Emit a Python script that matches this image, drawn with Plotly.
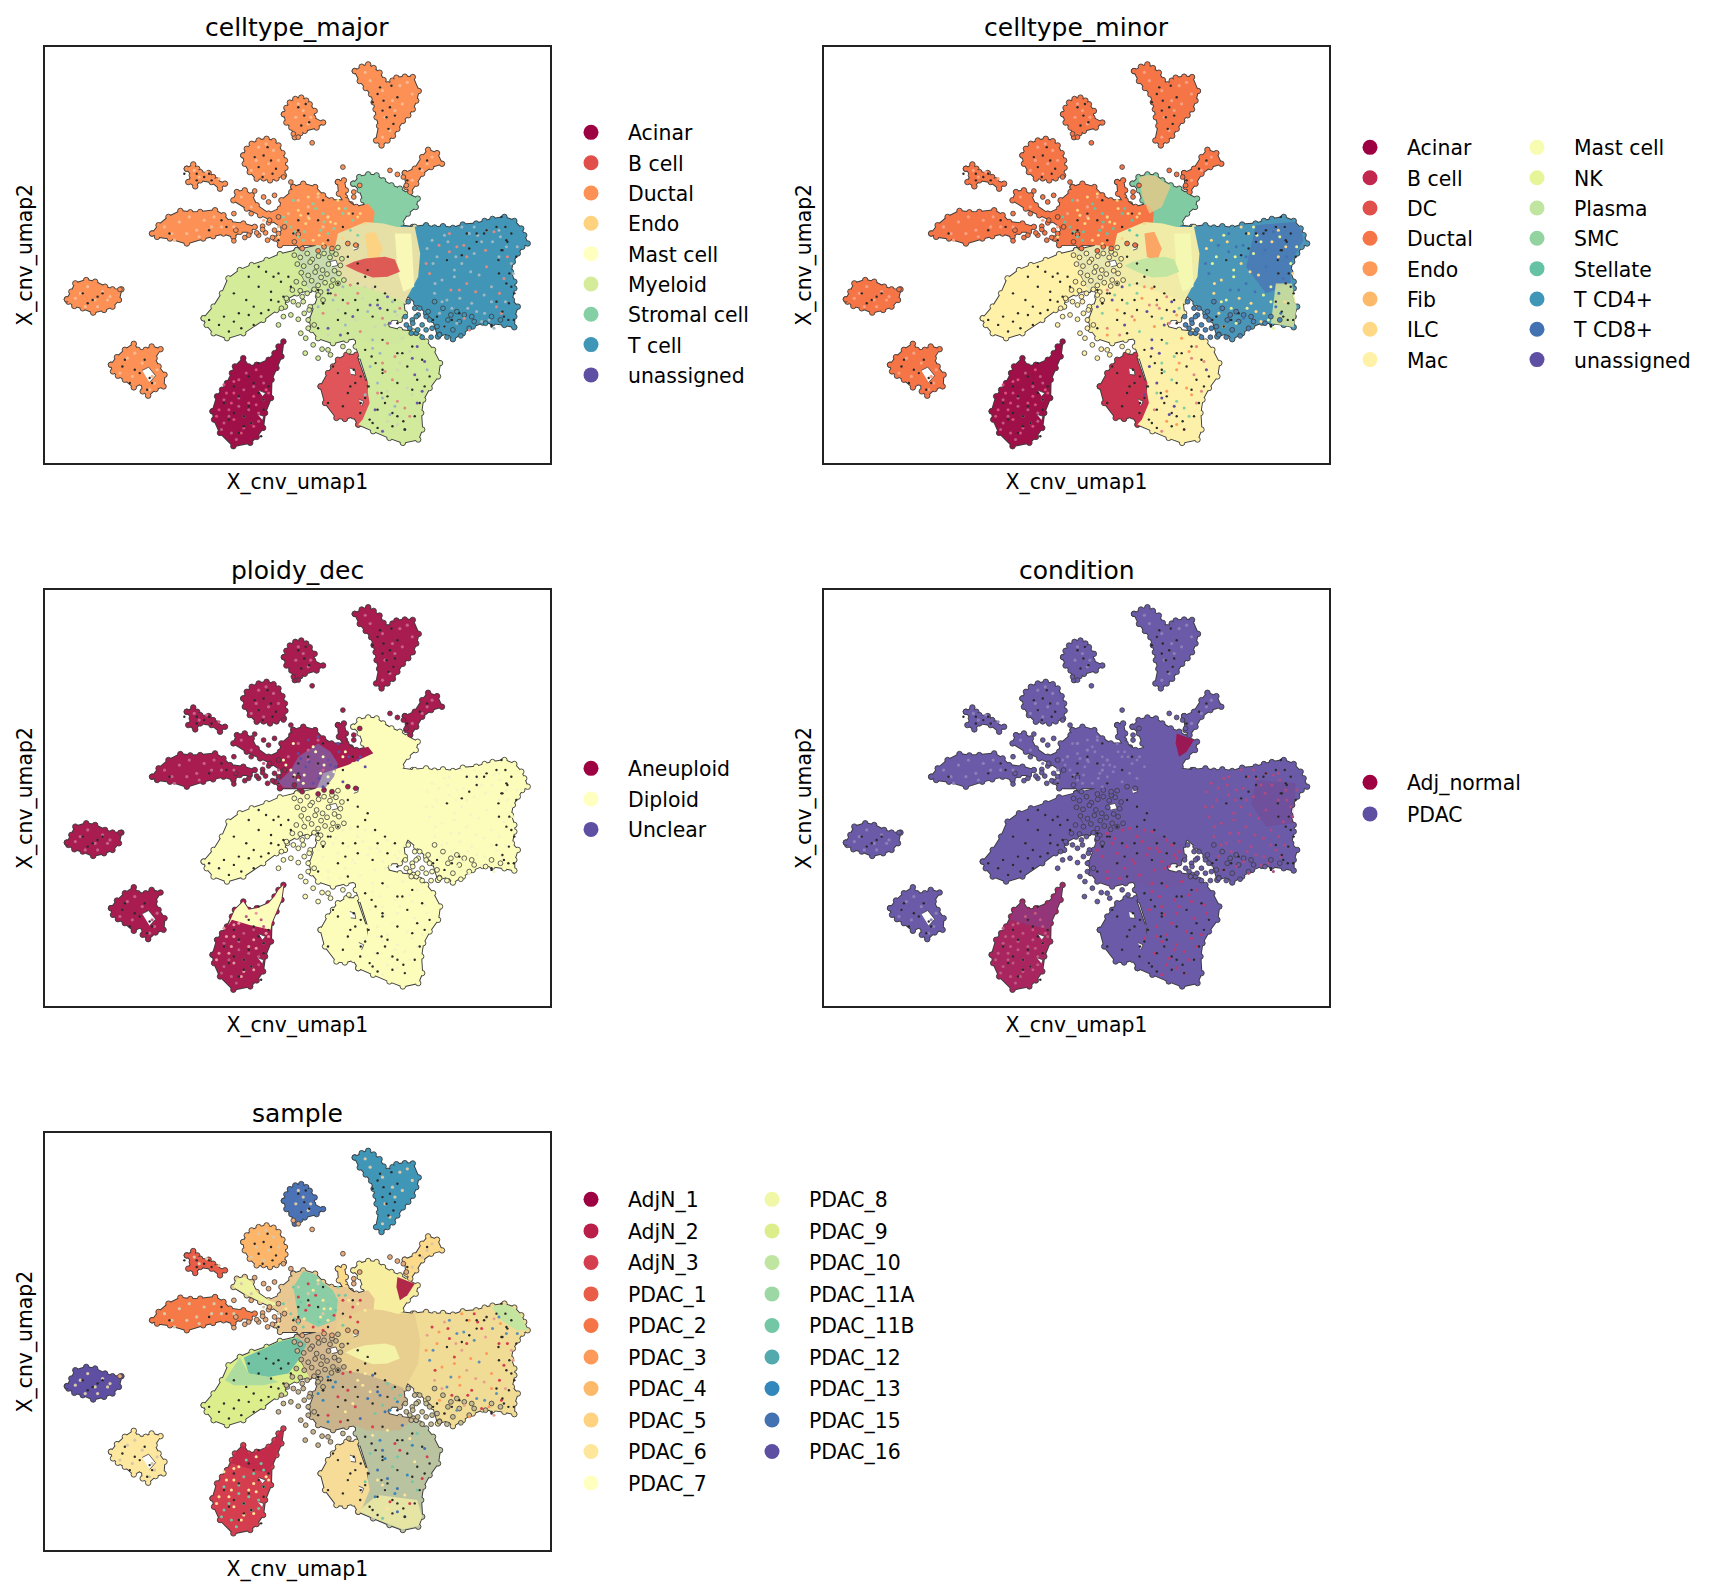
import plotly.graph_objects as go

# ---- cluster outlines (x = umap1 axis, y = umap2 axis, picture units)
TOP_WEDGE_X = [714,728,741,752,764,772,781,790,798,815,831,843,838,831,822,811,800,791,780,768,757,763,758,756,752,747,736,724]
TOP_WEDGE_Y = [211,198,191,202,216,238,251,240,231,228,229,271,300,326,344,361,385,406,420,435,420,376,350,326,305,281,262,241]
BLOB_TOP_X = [571,576,583,594,606,616,623,633,630,650,637,613,604,593,586,576]
BLOB_TOP_Y = [341,322,306,295,291,300,311,331,351,366,381,391,398,410,381,366]
BLOB_A_X = [489,496,506,520,536,550,560,568,573,574,571,556,543,530,516,502,492]
BLOB_A_Y = [465,445,430,420,415,422,435,458,480,502,525,534,540,534,535,515,490]
SMALL_A_X = [375,388,396,402,419,428,435,452,442,425,402,392,378,385]
SMALL_A_Y = [505,492,505,515,518,530,540,550,565,545,540,558,545,525]
LEFT_LONG_X = [305,318,338,362,382,402,432,449,462,489,512,502,482,469,449,428,408,375,341,315]
LEFT_LONG_Y = [700,675,650,632,636,635,630,645,665,670,680,695,695,710,700,708,715,730,715,710]
LEFT_ROUND_X = [133,142,150,172,190,210,225,243,238,225,208,186,165,148,136]
LEFT_ROUND_Y = [898,875,850,840,845,860,868,868,900,920,930,938,925,918,905]
LOW_LEFT_X = [222,234,250,268,276,292,304,322,310,318,330,328,312,297,286,284,268,250,236,226]
LOW_LEFT_Y = [1095,1072,1050,1032,1050,1050,1040,1048,1075,1100,1125,1160,1168,1188,1175,1150,1163,1140,1128,1115]
ACINAR_X = [427,436,446,456,466,472,489,500,516,540,552,560,570,566,556,546,545,533,529,516,503,469,442,430]
ACINAR_Y = [1235,1190,1170,1150,1120,1100,1075,1100,1095,1080,1060,1040,1025,1070,1105,1140,1195,1240,1285,1312,1330,1340,1300,1260]
BCELL_X = [645,660,670,680,697,717,737,744,730,721,711,694,677,654]
BCELL_Y = [1160,1120,1100,1080,1065,1065,1150,1210,1260,1275,1250,1258,1255,1210]
MYE_LOW_X = [717,751,780,805,845,858,872,886,882,865,852,848,850,842,811,784,751,721,737,741,724,716]
MYE_LOW_Y = [990,995,985,995,1010,1025,1050,1090,1130,1165,1200,1240,1290,1320,1330,1315,1295,1275,1220,1150,1070,1040]
MYE_MID_X = [623,633,640,630,670,724,778,811,815,805,784,778,805,832,805,737,717,697,670,640,627]
MYE_MID_Y = [960,920,890,850,820,810,870,890,940,960,960,980,990,995,1030,1030,1015,1020,1030,1015,990]
MYE_LEFT_X = [409,429,446,459,482,506,536,563,597,617,603,623,597,573,573,556,529,489,456,429,415]
MYE_LEFT_Y = [955,920,880,835,810,795,780,762,750,770,820,870,880,900,920,930,960,1000,1015,1000,975]
TCELL_X = [805,831,858,875,892,912,932,959,976,992,1016,1036,1050,1056,1063,1052,1043,1033,1029,1036,1036,1031,1043,1036,1036,1016,992,972,952,932,912,902,882,872,858,838,818,805,805]
TCELL_Y = [675,680,675,682,678,683,673,670,662,656,650,662,685,705,730,740,760,785,815,845,865,900,920,950,982,975,970,968,980,1000,1018,1000,1010,960,940,910,885,820,730]
STROMAL_X = [711,723,741,758,771,788,805,821,841,837,821,808,805,751,731,724]
STROMAL_Y = [550,530,522,525,540,555,565,580,595,620,640,670,685,685,600,570]
DUCT_CENTER_X = [590,610,634,650,667,697,717,741,754,751,724,704,670,637,603,563,553,570,546,523,496,469,476,492,506,516,540,563,566,586]
DUCT_CENTER_Y = [560,550,560,585,600,600,620,610,635,680,710,740,750,735,735,735,715,685,660,645,625,600,575,570,585,615,640,625,600,575]
STREAK_X = [815,835,850,862,880,890,868,850,838,826,818]
STREAK_Y = [518,505,470,448,458,490,500,520,550,575,560]
SPIKE_X = [680,692,696,694,706,695,682]
SPIKE_Y = [545,540,570,590,612,612,580]
CENTER_LINK_X = [680,735,772,800,835,846,842,825,815,772,730,690,670]
CENTER_LINK_Y = [700,665,670,680,680,760,830,880,905,880,860,850,770]
MIDWEST_X = [597,640,700,720,704,670,640,622,605]
MIDWEST_Y = [750,735,745,800,835,830,860,870,820]

# ---- colour patches inside the clusters
ENDO_PATCH_X = [735,755,770,760,740]
ENDO_PATCH_Y = [700,695,745,785,770]
MAST_STRIP_X = [795,828,834,812,800]
MAST_STRIP_Y = [700,700,860,875,810]
DC_SPOT_X = [695,712,735,775,795,805,780,750,720]
DC_SPOT_Y = [797,785,775,770,778,815,830,832,815]
T_RIGHT_X = [960,1036,1050,1056,1040,1030,1030,980,940]
T_RIGHT_Y = [675,665,685,720,760,790,850,880,800]
NK_PATCH_X = [1000,1032,1042,1036,990]
NK_PATCH_Y = [850,850,920,982,970]
STROMAL_TOP_X = [723,741,758,771,788,770,745,731]
STROMAL_TOP_Y = [532,524,527,542,557,620,640,590]
ACINAR_TOP_X = [472,489,500,516,540,552,560,570,566,556,546,544,500,466,458]
ACINAR_TOP_Y = [1100,1075,1100,1095,1080,1060,1040,1025,1070,1105,1140,1160,1145,1130,1148]
UNCLEAR_PATCH_X = [600,640,665,680,672,655,620,570,560,585]
UNCLEAR_PATCH_Y = [640,600,625,660,700,733,733,733,715,680]
DIPLOID_SIDE_X = [650,700,758,758,724,704,670,637]
DIPLOID_SIDE_Y = [690,665,625,680,712,742,752,737]
NORMAL_SPOT_X = [800,835,820,805,798]
NORMAL_SPOT_Y = [570,590,625,640,600]
T_FLUSH_X = [960,1040,1035,980,950]
T_FLUSH_Y = [710,720,840,850,780]
S_T_GREEN_X = [990,1016,1036,1050,1056,1063,1040,1010]
S_T_GREEN_Y = [660,652,664,687,707,730,730,700]
S_LEFT_TEAL_X = [490,536,563,597,617,600,580,540,500]
S_LEFT_TEAL_Y = [812,782,764,752,772,820,860,870,860]
S_LEFT_GREEN_X = [452,482,500,540,560,530,470]
S_LEFT_GREEN_Y = [880,812,860,870,885,895,895]
S_DUCT_TEAL_X = [590,610,634,650,670,680,675,640,600]
S_DUCT_TEAL_Y = [600,552,562,587,610,640,700,720,690]
S_DUCT_YG_X = [469,476,492,506,516,540,560,545,523,496]
S_DUCT_YG_Y = [600,575,570,585,615,640,650,658,643,623]
S_LOW_Y_X = [721,760,840,850,842,811,784,751]
S_LOW_Y_Y = [1273,1225,1240,1290,1318,1328,1313,1293]

# ---- small gaps seen inside the clusters
GAP_X = [285,298,312,300,None,518,530,528,None,704,714,716,706,None,722,732,728,None,662,676,680,668,None,710,722,720,712,None,520,534,528]
GAP_Y = [1112,1102,1128,1148,None,1244,1250,1262,None,1105,1110,1126,1124,None,1198,1205,1220,None,785,780,796,800,None,735,732,746,750,None,1172,1180,1190]

# ---- loose cells
LOOSE_CENTER_X = [592,604,618,628,641,652,664,676,688,598,611,624,637,649,661,673,685,606,620,634,646,658,670,682,596,612,627,640,654,667,680,692,604,618,632,645,610,624,612,600,588,578,566,570,560,620,605,615,690,702,665,648,630,614,668,680,608,590,576,585,660,640,600,620,632,650,640,622]
LOOSE_CENTER_Y = [765,772,760,778,768,760,772,762,776,792,798,786,800,810,792,812,796,818,826,816,832,822,840,820,845,850,842,856,848,858,850,840,872,880,868,876,905,920,940,958,870,900,925,950,975,985,1000,1015,1040,1055,1065,1048,1035,1060,755,742,890,905,895,945,1050,1075,915,960,975,900,885,930]
LOOSE_T_X = [822,835,816,830,842,850,825,858,870,885,868,838,818,828,850,880,900,912,928,945,902,925,955,978,990,1008,838,831,841,865,858,885,845,862,875,892,908,920,935,950]
LOOSE_T_Y = [905,925,950,960,945,975,985,950,985,1003,1012,1000,975,1000,1012,980,1012,990,1008,985,960,965,965,970,950,960,950,970,990,960,990,1005,925,935,905,925,945,935,945,950]
LOOSE_DUCT_X = [470,505,512,530,540,552,690,712,590,600,628,785,800,812,818,640,652,668,700,716,520,538,474,492,240,570,585,712,724,528,552,572,608,600,592,534,548,560,540,470,500,516,528,542,560]
LOOSE_DUCT_Y = [640,640,572,590,605,585,500,575,400,410,427,510,522,530,555,752,740,745,730,735,705,720,690,712,868,530,545,590,555,678,690,680,745,702,725,698,712,700,668,722,705,698,688,660,650]

# ---- dark flecks
FLECK_X = [760,772,785,778,792,770,782,800,765,788,750,795,600,612,622,606,615,530,545,520,555,538,512,548,528,395,410,425,370,395,420,445,340,455,420,165,185,205,175,195,250,270,290,300,260,280,245,305,295,480,500,520,470,490,510,530,460,500,480,520,490,450,470,505,530,540,525,680,700,660,715,725,690,670,705,735,800,820,840,780,850,760,800,830,865,815,770,845,790,810,830,750,770,855,835,800,470,500,520,545,560,570,480,450,540,510,585,660,690,720,750,780,800,650,700,640,760,640,720,680,960,1000,1020,1040,1010,980,1030,1025,1015,990,1035,1005,940,900,1010,620,650,640,590,600,560,660,600,690,710,820,845,860,
           735,748,756,712,726,742,768,775,790,812,726,744,760,770,1018,1030,1022,1012,1004,1026,1020,1036,1000,1012,1024,975,960,945,930,990,872,880,895,910,925,680,665,650,700,720,740,715,695,735,755,775,795,520,535,550,565,580,495,510,525,545,560,470,485,500,420,440,460]
FLECK_Y = [280,300,320,350,370,330,385,290,260,255,305,345,320,345,365,375,310,465,480,500,505,440,470,520,530,520,530,540,520,540,520,660,700,680,690,880,900,880,910,890,1080,1110,1080,1135,1150,1120,1100,1150,1170,1190,1220,1180,1240,1280,1150,1200,1260,1130,1300,1090,1250,1210,1160,1270,1230,1160,1310,1120,1180,1210,1150,1240,1220,1100,1160,1195,1060,1100,1140,1190,1080,1230,1250,1170,1130,1290,1110,1210,1280,1060,1040,1270,1020,1160,1250,1150,880,830,860,900,820,890,940,950,930,975,860,880,900,930,950,930,970,910,1000,985,900,870,850,960,700,680,720,770,750,690,860,910,950,980,960,820,700,780,650,640,600,660,700,660,720,720,690,680,640,540,505,480,
           1050,1070,1090,1110,1130,1160,1180,1210,1240,1265,1210,1260,1285,1120,680,700,725,750,780,820,850,880,905,935,960,700,725,745,765,975,960,950,980,960,940,850,880,910,770,790,810,900,940,830,860,880,900,800,815,830,845,830,900,920,940,875,905,965,985,945,960,975,995]

# ---- cells of other types sprinkled through the clusters
MIX_T_X = [870,895,920,945,970,995,1020,880,905,930,955,980,1005,1030,865,890,915,940,965,990,1015,875,900,925,950,975,1000,885,910,935,960,985,1010,895,920,945,970,995,905,930,955,980,1005,915,940,860,872,884,902,918,934,948,962,978,992,1008,1022,1034,1042,858,876,890,908,926,942,958,976,990,1006,1018]
MIX_T_Y = [720,705,740,700,725,695,740,770,755,790,760,800,770,790,820,840,810,850,825,860,835,880,900,870,910,885,920,940,925,955,935,960,940,980,970,990,965,985,700,680,680,690,690,830,770,745,790,735,725,770,735,815,705,750,725,710,770,820,740,790,850,905,870,895,925,875,940,905,880,905]
MIX_MYE_X = [660,690,720,750,780,670,700,730,760,790,650,680,710,740,770,800,660,695,725,755,785,750,780,810,840,765,795,825,855,745,775,805,835,760,790,820,850,770,800,830,755,785,815,800,770,640,705,735,765,795,675,715,745,775,805,660,685,750,770,800,830,860,760,780,840,795,825,780,815,735]
MIX_MYE_Y = [870,860,880,865,890,900,910,895,915,905,940,930,950,935,955,945,985,975,995,980,970,1020,1030,1015,1040,1060,1070,1055,1085,1100,1115,1090,1125,1150,1140,1165,1175,1195,1205,1185,1230,1245,1225,1275,1295,920,855,860,925,935,885,960,915,975,925,1005,1005,1045,1090,1110,1075,1110,1180,1175,1210,1220,1250,1265,1290,1185]
MIX_DUCT_X = [570,600,630,660,690,720,585,615,645,675,705,735,600,630,660,690,720,560,590,620,650,680,710,640,610,650,575,605,635,665,695,725,612,642,672,702,592,622,652,682]
MIX_DUCT_Y = [650,630,610,650,640,650,680,670,690,670,690,670,710,720,700,715,705,710,600,590,640,600,660,580,720,730,665,645,625,665,625,640,695,705,685,640,695,655,665,625]
MIX_ACINAR_X = [450,470,490,510,530,460,480,500,520,540,450,470,490,510,465,485,505,480,495,515,525,455,475,440,460,435,445,465,500,515,530,490,510,470,480,450,520,535]
MIX_ACINAR_Y = [1200,1180,1170,1190,1150,1230,1220,1210,1240,1180,1270,1260,1250,1280,1300,1300,1270,1140,1120,1110,1130,1180,1320,1230,1250,1250,1290,1210,1230,1215,1200,1285,1160,1145,1195,1155,1265,1170]

# ---- paler grain across the separate clusters
GRAIN_X = [735,745,770,790,805,820,830,775,795,810,785,770,600,610,595,625,620,520,535,550,515,540,560,530,505,330,345,360,380,395,410,430,350,375,400,425,445,470,160,175,190,205,220,150,170,195,215,255,270,285,240,265,305,315,310,300,400,415,390,440,600,620,640,660,580,560,530,505,485,620,650,590,560,870,860,850,830]
GRAIN_Y = [215,240,270,300,255,245,280,350,330,310,390,410,310,330,350,350,370,440,430,450,480,490,480,520,510,680,700,665,650,690,660,650,720,700,710,680,680,680,880,860,900,875,890,895,920,920,900,1075,1060,1090,1120,1130,1130,1110,1150,1170,530,515,510,535,600,620,590,650,640,680,660,620,590,650,680,700,720,470,490,510,540]

TITLES = ["celltype_major","celltype_minor","ploidy_dec","condition","sample"]
X_LABEL = "X_cnv_umap1"
Y_LABEL = "X_cnv_umap2"

MAJOR_CATS = ["Acinar","B cell","Ductal","Endo","Mast cell","Myeloid","Stromal cell","T cell","unassigned"]
MAJOR_COLS = ["#9e0142","#e04f4a","#fc9055","#fed27f","#ffffbf","#d4ec9a","#85cfa5","#3f96b7","#5e4fa2"]
MINOR_CATS_A = ["Acinar","B cell","DC","Ductal","Endo","Fib","ILC","Mac"]
MINOR_COLS_A = ["#9e0142","#c2284e","#e04f4a","#f57547","#fd9a59","#fdb96a","#fed884","#fff1a8"]
MINOR_CATS_B = ["Mast cell","NK","Plasma","SMC","Stellate","T CD4+","T CD8+","unassigned"]
MINOR_COLS_B = ["#f7fcb0","#e6f598","#bfe5a0","#93d3a0","#66c2a5","#3f96b7","#4272b1","#5e4fa2"]
PLOIDY_CATS = ["Aneuploid","Diploid","Unclear"]
PLOIDY_COLS = ["#9e0142","#ffffbf","#5e4fa2"]
COND_CATS = ["Adj_normal","PDAC"]
COND_COLS = ["#9e0142","#5e4fa2"]
SAMPLE_CATS_A = ["AdjN_1","AdjN_2","AdjN_3","PDAC_1","PDAC_2","PDAC_3","PDAC_4","PDAC_5","PDAC_6","PDAC_7"]
SAMPLE_COLS_A = ["#9e0142","#b91f48","#d53e4f","#e95c47","#f57547","#fd9a59","#fdb96a","#fed27f","#fee79a","#ffffbf"]
SAMPLE_CATS_B = ["PDAC_8","PDAC_9","PDAC_10","PDAC_11A","PDAC_11B","PDAC_12","PDAC_13","PDAC_15","PDAC_16"]
SAMPLE_COLS_B = ["#f0f8a8","#dcee8c","#bfe5a0","#9dd8a4","#74c7a5","#52a9ae","#3288bd","#4272b1","#5e4fa2"]

OUTLINES = {
    "wedge": (TOP_WEDGE_X, TOP_WEDGE_Y), "blobtop": (BLOB_TOP_X, BLOB_TOP_Y), "bloba": (BLOB_A_X, BLOB_A_Y),
    "small": (SMALL_A_X, SMALL_A_Y), "long": (LEFT_LONG_X, LEFT_LONG_Y), "round": (LEFT_ROUND_X, LEFT_ROUND_Y),
    "lowleft": (LOW_LEFT_X, LOW_LEFT_Y), "acinar": (ACINAR_X, ACINAR_Y), "tcell": (TCELL_X, TCELL_Y),
    "stromal": (STROMAL_X, STROMAL_Y), "streak": (STREAK_X, STREAK_Y), "spike": (SPIKE_X, SPIKE_Y),
    "myelow": (MYE_LOW_X, MYE_LOW_Y), "bcell": (BCELL_X, BCELL_Y), "myemid": (MYE_MID_X, MYE_MID_Y),
    "myeleft": (MYE_LEFT_X, MYE_LEFT_Y), "duct": (DUCT_CENTER_X, DUCT_CENTER_Y), "midwest": (MIDWEST_X, MIDWEST_Y),
    "link": (CENTER_LINK_X, CENTER_LINK_Y),
}
PATCHES = {
    "endo": (ENDO_PATCH_X, ENDO_PATCH_Y), "mast": (MAST_STRIP_X, MAST_STRIP_Y), "dc": (DC_SPOT_X, DC_SPOT_Y),
    "tright": (T_RIGHT_X, T_RIGHT_Y), "nk": (NK_PATCH_X, NK_PATCH_Y), "stromtop": (STROMAL_TOP_X, STROMAL_TOP_Y),
    "acintop": (ACINAR_TOP_X, ACINAR_TOP_Y), "unclear": (UNCLEAR_PATCH_X, UNCLEAR_PATCH_Y),
    "dipside": (DIPLOID_SIDE_X, DIPLOID_SIDE_Y), "normspot": (NORMAL_SPOT_X, NORMAL_SPOT_Y),
    "tflush": (T_FLUSH_X, T_FLUSH_Y), "sgreen": (S_T_GREEN_X, S_T_GREEN_Y),
    "steal": (S_LEFT_TEAL_X, S_LEFT_TEAL_Y), "slgreen": (S_LEFT_GREEN_X, S_LEFT_GREEN_Y),
    "sdteal": (S_DUCT_TEAL_X, S_DUCT_TEAL_Y), "sdyg": (S_DUCT_YG_X, S_DUCT_YG_Y), "slowy": (S_LOW_Y_X, S_LOW_Y_Y),
}

DUCTAL = "#fc9055"; MINOR_DUCT = "#f57547"; PURP = "#6a5aa8"; ANEU = "#a81c50"; DIP = "#fdfdbb"
PANELS = [
    dict(fill=dict(wedge=DUCTAL,blobtop=DUCTAL,bloba=DUCTAL,small=DUCTAL,long=DUCTAL,round=DUCTAL,lowleft=DUCTAL,acinar="#a01048",
                   bcell="#e0555a",myelow="#d2ea9c",myemid="#d0e89c",myeleft="#d4ec9a",midwest="#c8dcb0",link="#e6dfa6",tcell="#4196b8",stromal="#88cfa6",
                   duct=DUCTAL,streak=DUCTAL,spike=DUCTAL),
         patches=[("endo","#fed27f",.9),("mast","#fbfbb8",.9),("dc","#dc4b4c",.9)],
         mix=dict(t=["#9fb8c0","#9fb8c0","#e08a80"],mye=["#6a5aa8","#9fb8c0","#e08a80","#d0d8b0"],duct=["#85cfa5","#fed27f"],acinar=["#c05a80","#d9507a"]),
         grain="#f8b890",loose=dict(center="#d4ec9a",t="#4196b8",duct="#fc9055")),
    dict(fill=dict(wedge=MINOR_DUCT,blobtop=MINOR_DUCT,bloba=MINOR_DUCT,small=MINOR_DUCT,long=MINOR_DUCT,round=MINOR_DUCT,lowleft=MINOR_DUCT,acinar="#a01048",
                   bcell="#c8324e",myelow="#fdf0a8",myemid="#fbf0a8",myeleft="#fff1a8",midwest="#e8e8b0",link="#f0eca8",tcell="#4a96b8",stromal="#80cba2",
                   duct=MINOR_DUCT,streak=MINOR_DUCT,spike=MINOR_DUCT),
         patches=[("stromtop","#e8c888",.8),("endo","#fd9a59",.85),("mast","#f4f9b0",.95),("dc","#bfe5a0",.95),("tright","#4a78b5",.85),("nk","#dfea98",.8)],
         mix=dict(t=["#fed884","#e6f598","#4272b1"],mye=["#e08a80","#5e4fa2","#85cfa5","#fd9a59"],duct=["#66c2a5","#fed27f"],acinar=["#c05a80","#d9507a"]),
         grain="#f8a080",loose=dict(center="#fff1a8",t="#4a84b8",duct="#f57547")),
    dict(fill=dict(wedge=ANEU,blobtop=ANEU,bloba=ANEU,small=ANEU,long=ANEU,round=ANEU,lowleft=ANEU,acinar=ANEU,bcell=DIP,myelow=DIP,myemid=DIP,myeleft=DIP,
                   midwest=DIP,link=DIP,tcell=DIP,stromal=DIP,duct=ANEU,streak=ANEU,spike=ANEU),
         patches=[("dipside",DIP,1),("unclear","#7a68ae",.7),("acintop",DIP,1)],
         mix=dict(t=["#f4f4c4"],mye=["#f4f4c4"],duct=["#fdfdbb","#5e4fa2"],acinar=["#c05a80","#e89aa0"]),
         grain="#c8608a",loose=dict(center=DIP,t=DIP,duct="#a81c50")),
    dict(fill=dict(wedge=PURP,blobtop=PURP,bloba=PURP,small=PURP,long=PURP,round=PURP,lowleft=PURP,acinar="#a82560",bcell=PURP,myelow=PURP,myemid="#6e58a4",
                   myeleft=PURP,midwest=PURP,link=PURP,tcell=PURP,stromal=PURP,duct=PURP,streak=PURP,spike=PURP),
         patches=[("normspot","#a0124a",.9),("tflush","#9e0142",.1),("acintop","#7d4590",.5)],
         mix=dict(t=["#b04a80"],mye=["#c03a70"],duct=["#8a78b8"],acinar=["#c05a80"]),
         grain="#8c80b8",loose=dict(center=PURP,t=PURP,duct=PURP)),
    dict(fill=dict(wedge="#3f96b7",blobtop="#4a72b5",bloba="#fdb56a",small="#e95c47",long="#f67a48",round="#5e4fa2",lowleft="#fee8a0",acinar="#d53e4f",
                   bcell="#f6dc96",myelow="#b9c3a0",myemid="#c9b48c",myeleft="#dcee8c",midwest="#d4b890",link="#e8cf90",tcell="#f1dc95",stromal="#f8eea0",
                   duct="#e8c890",streak="#fdd98a",spike="#fdd98a"),
         patches=[("sgreen","#bfe5a0",.9),("steal","#6cc0a5",.95),("slgreen","#a8d9a0",.9),("sdteal","#86cfa6",.95),("sdyg","#eef5a0",.95),
                  ("slowy","#f3eda5",.8),("normspot","#a8123f",.9),("dc","#f5f5a8",.9),("acintop","#b92048",.6)],
         mix=dict(t=["#d53e4f","#e8a090","#5e8fb8","#fd9a59"],mye=["#3288bd","#d53e4f","#fee79a","#4272b1","#74c7a5"],duct=["#74c7a5","#d53e4f","#fee79a"],acinar=["#74c7a5","#fee79a"]),
         grain="#d8c8a8",loose=dict(center="#c9b48c",t="#c8bc90",duct="#e8a878")),
]

W, H = 1716, 1596
BOXES = [(44.6,550,46.8,462.8),(823.6,1329.4,46.8,462.8),(44.6,550,589.6,1006.4),(823.6,1329.4,589.6,1006.4),(44.6,550,1133.2,1550)]
LEGENDS = [
    [(591,112.6,MAJOR_CATS,MAJOR_COLS,0.8)],
    [(1370,127.6,MINOR_CATS_A,MINOR_COLS_A,0.8),(1537,127.6,MINOR_CATS_B,MINOR_COLS_B,0.8)],
    [(591,748.6,PLOIDY_CATS,PLOIDY_COLS,1)],
    [(1370,762.6,COND_CATS,COND_COLS,2)],
    [(591,1179.6,SAMPLE_CATS_A,SAMPLE_COLS_A,2),(772,1179.6,SAMPLE_CATS_B,SAMPLE_COLS_B,2)],
]
FONT = "DejaVu Sans"
fig = go.Figure()
layout = dict(width=W, height=H, margin=dict(l=0,r=0,t=0,b=0), paper_bgcolor="white", plot_bgcolor="white",
              font=dict(family=FONT, size=20.4, color="black"), annotations=[])
OUT = "#3c3c3c"
lg_idx = 0
for i, (p, box, title) in enumerate(zip(PANELS, BOXES, TITLES)):
    n = i + 1
    sx = "" if n == 1 else str(n)
    xa, ya = f"x{sx}", f"y{sx}"
    x0, x1, y0, y1 = box
    common = dict(xaxis=xa, yaxis=ya, showlegend=False, hoverinfo="skip")
    layout[f"xaxis{sx}"] = dict(domain=[x0/W, x1/W], range=[88,1108], showticklabels=False, ticks="", showgrid=False, zeroline=False,
                                showline=True, mirror=True, linecolor="#222", linewidth=1.6, anchor=ya,
                                title=dict(text=X_LABEL, standoff=11, font=dict(size=20.4)))
    layout[f"yaxis{sx}"] = dict(domain=[1-y1/H, 1-y0/H], range=[1390,138], showticklabels=False, ticks="", showgrid=False, zeroline=False,
                                showline=True, mirror=True, linecolor="#222", linewidth=1.6, anchor=xa,
                                title=dict(text=Y_LABEL, standoff=5, font=dict(size=20.4)))
    layout["annotations"].append(dict(text=title, x=(x0+x1)/2/W, y=1-(y0-3)/H, xref="paper", yref="paper", yanchor="bottom", xanchor="center",
                                      showarrow=False, font=dict(size=25, family=FONT, color="black")))
    # first pass: the dark rim of every cluster, with a bead at each outline point
    for name, (xs, ys) in OUTLINES.items():
        fig.add_trace(go.Scatter(x=xs+xs[:1], y=ys+ys[:1], mode="lines+markers", line=dict(color=OUT, width=1.9),
                                 marker=dict(size=5.5, color=p["fill"][name], line=dict(color=OUT, width=0.9)), **common))
    # second pass: the fills, which hide the rims where clusters touch
    for name, (xs, ys) in OUTLINES.items():
        fig.add_trace(go.Scatter(x=xs, y=ys, mode="lines", fill="toself", fillcolor=p["fill"][name], line=dict(width=0), **common))
    for name, col, op in p["patches"]:
        xs, ys = PATCHES[name]
        fig.add_trace(go.Scatter(x=xs, y=ys, mode="lines", fill="toself", fillcolor=col, opacity=op, line=dict(width=0), **common))
    fig.add_trace(go.Scatter(x=GAP_X, y=GAP_Y, mode="lines", fill="toself", fillcolor="white", line=dict(color=OUT, width=0.8), **common))
    for key, (xs, ys) in dict(center=(LOOSE_CENTER_X, LOOSE_CENTER_Y), t=(LOOSE_T_X, LOOSE_T_Y), duct=(LOOSE_DUCT_X, LOOSE_DUCT_Y)).items():
        fig.add_trace(go.Scatter(x=xs, y=ys, mode="markers", marker=dict(size=4.8, color=p["loose"][key], line=dict(color=OUT, width=0.8)), **common))
    fig.add_trace(go.Scatter(x=GRAIN_X, y=GRAIN_Y, mode="markers", marker=dict(size=3.2, color=p["grain"]), **common))
    for key, (xs, ys) in dict(t=(MIX_T_X, MIX_T_Y), mye=(MIX_MYE_X, MIX_MYE_Y), duct=(MIX_DUCT_X, MIX_DUCT_Y), acinar=(MIX_ACINAR_X, MIX_ACINAR_Y)).items():
        cols = p["mix"][key]
        fig.add_trace(go.Scatter(x=xs, y=ys, mode="markers", marker=dict(size=3, color=[cols[j % len(cols)] for j in range(len(xs))]), **common))
    fig.add_trace(go.Scatter(x=FLECK_X, y=FLECK_Y, mode="markers", marker=dict(size=2.4, color="#2a2a2a"), **common))
    for mx, top, cats, cols, gap in LEGENDS[i]:
        lg_idx += 1
        lname = "legend" if lg_idx == 1 else f"legend{lg_idx}"
        layout[lname] = dict(x=(mx-37)/W, y=1-top/H, xanchor="left", yanchor="top", bgcolor="rgba(0,0,0,0)", itemwidth=64,
                             itemsizing="trace", tracegroupgap=gap, font=dict(size=20.4, family=FONT, color="black"), itemclick=False, itemdoubleclick=False)
        for c, col in zip(cats, cols):
            fig.add_trace(go.Scatter(x=[None], y=[None], mode="markers", name=c, legendgroup=f"{lg_idx}-{c}", legend=lname,
                                     marker=dict(size=15, color=col), xaxis=xa, yaxis=ya))
fig.update_layout(**layout)
fig.write_html("out.html", post_script="document.body.style.margin='0';document.documentElement.style.overflow='hidden';", config=dict(displayModeBar=False))
